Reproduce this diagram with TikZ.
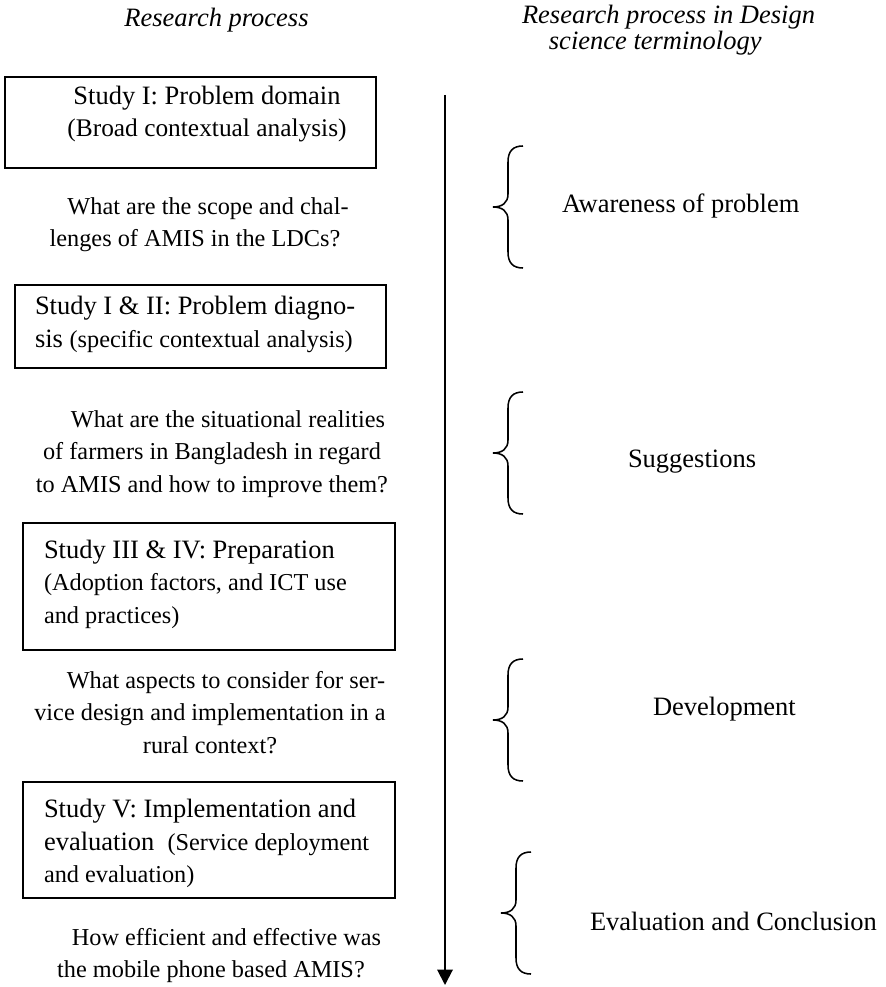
\documentclass[tikz,border=0pt]{standalone}
\usepackage{fontspec}
\setmainfont{Liberation Serif}
\usetikzlibrary{arrows.meta,fit}
\newcommand\mainsize{\fontsize{12}{14.5}\selectfont}
\newcommand\notesize{\fontsize{11}{14.5}\selectfont}
\begin{document}
% Multi-line nodes are placed by the baseline of their last line.
\begin{tikzpicture}[x=0.453pt,y=-0.453pt,
  every node/.style={inner sep=0pt, outer sep=0pt, font=\mainsize},
  frame/.style={draw, line width=0.9pt, inner sep=0pt},
  heading/.style={font=\mainsize\itshape},
  boxtext/.style={align=left, anchor=base west},
  question/.style={align=center, anchor=base, font=\notesize},
  phase/.style={anchor=base west},
  flow/.style={line width=0.9pt, -{Triangle[width=7pt,length=7pt]}},
  lbrace/.pic={
    \draw[line width=0.7pt]
      (30,-61) .. controls (20,-61) and (15,-56) .. (15,-45)
      -- (15,-13) .. controls (15,-4) and (9,0) .. (0,0)
      .. controls (9,0) and (15,4) .. (15,13)
      -- (15,45) .. controls (15,56) and (20,61) .. (30,61);
  }
]
\useasboundingbox (0,0) rectangle (885,987);

% column headings
\node (head-left) [heading, anchor=base] at (216.5,27) {Research process};
\node (head-right) [heading, anchor=base west, align=left,
  font=\fontsize{12}{10.6}\selectfont\itshape] at (522,50)
  {Research process in Design\\\hspace*{12.2pt}science terminology};

% studies
\node (f1) [frame, fit={(5,77) (376,168)}] {};
\node (t1) [align=center, anchor=base] at (207,137)
  {Study I: Problem domain\\{\fontsize{11.5}{14.5}\selectfont (Broad contextual analysis)}};

\node (f2) [frame, fit={(15,285) (386,368)}] {};
\node (t2) [boxtext] at (35,347)
  {Study I \& II: Problem diagno-\\sis {\notesize (specific contextual analysis)}};

\node (f3) [frame, fit={(23,523) (395,650)}] {};
\node (t3) [boxtext] at (44,623)
  {Study III \& IV: Preparation\\{\notesize (Adoption factors, and ICT use}\\{\notesize and practices)}};

\node (f4) [frame, fit={(23,782) (395,898)}] {};
\node (t4) [boxtext] at (44,882)
  {Study V: Implementation and\\evaluation\ \ {\notesize (Service deployment}\\{\notesize and evaluation)}};

% research questions
\node (q1) [question] at (195,247)
  {\hspace*{11.8pt}What are the scope and chal-\\lenges of AMIS in the LDCs?};
\node (q2) [question] at (212,492)
  {\hspace*{14.5pt}What are the situational realities\\of farmers in Bangladesh in regard\\to AMIS and how to improve them?};
\node (q3) [question] at (210,753)
  {\hspace*{14.5pt}What aspects to consider for ser-\\vice design and implementation in a\\rural context?};
\node (q4) [question] at (211,977)
  {\hspace*{14pt}How efficient and effective was\\the mobile phone based AMIS?};

% process direction
\coordinate (flow-start) at (445,95);
\coordinate (flow-end) at (445,985);
\draw[flow] (flow-start) -- (flow-end);

% design science phases
\pic (br1) at (493,207) {lbrace};
\pic (br2) at (493,453) {lbrace};
\pic (br3) at (493,720) {lbrace};
\pic (br4) at (501,913) {lbrace};

\node (p1) [phase] at (562,213) {Awareness of problem};
\node (p2) [phase] at (628,467) {Suggestions};
\node (p3) [phase] at (653,715) {Development};
\node (p4) [phase] at (590,930) {Evaluation and Conclusion};
\end{tikzpicture}
\end{document}
